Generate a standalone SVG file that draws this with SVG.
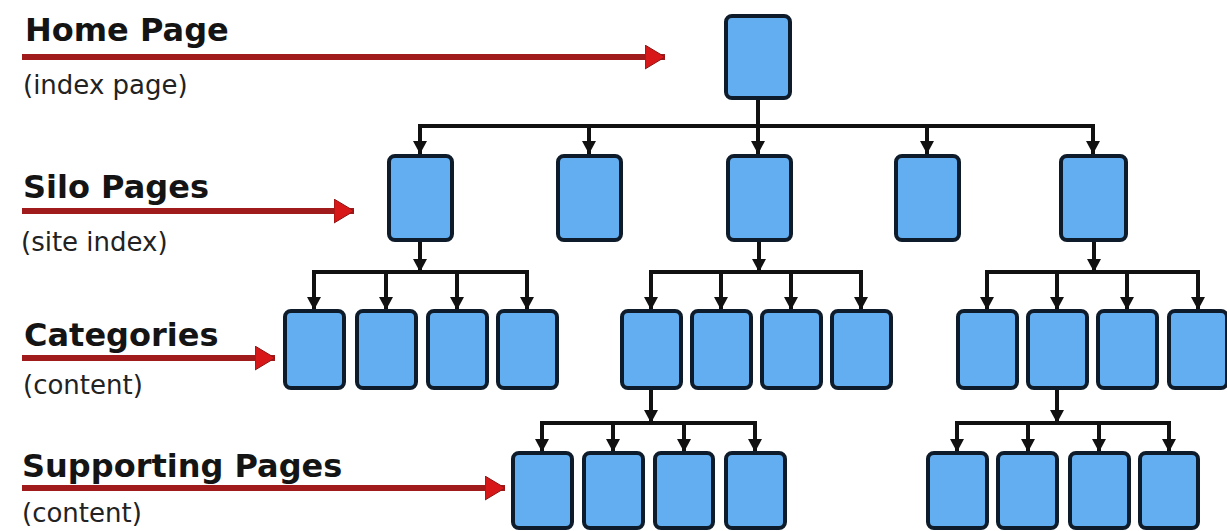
<svg xmlns="http://www.w3.org/2000/svg" width="1227" height="531" viewBox="0 0 1227 531">
  <style>
    .page { fill: #63aef0; stroke: #0d1b2a; stroke-width: 4; }
    .link { fill: none; stroke: #111; stroke-width: 4; }
    .tag  { fill: none; stroke: #a01c1c; stroke-width: 6; }
    .title { font-family: "DejaVu Sans", Verdana, sans-serif; font-weight: bold; font-size: 32px; fill: #141414; }
    .sub   { font-family: "DejaVu Sans", Verdana, sans-serif; font-size: 26px; fill: #222; }
  </style>
  <defs>
    <marker id="tip" markerUnits="userSpaceOnUse" markerWidth="16" markerHeight="16" refX="13" refY="7" orient="auto">
      <path d="M0,0 L13,7 L0,14 Z" fill="#111"/>
    </marker>
    <marker id="redtip" markerUnits="userSpaceOnUse" markerWidth="22" markerHeight="26" refX="20" refY="12" orient="auto">
      <path d="M0,0 L20,12 L0,24 Z" fill="#d81818" stroke="#8a1414" stroke-width="1"/>
    </marker>
  </defs>
  <rect width="1227" height="531" fill="#fff"/>

  <!-- level labels -->
  <g id="labels">
    <text class="title" x="25" y="41">Home Page</text>
    <text class="sub" x="23" y="94">(index page)</text>
    <text class="title" x="23" y="198">Silo Pages</text>
    <text class="sub" x="21" y="251">(site index)</text>
    <text class="title" x="24" y="346">Categories</text>
    <text class="sub" x="23" y="394">(content)</text>
    <text class="title" x="22" y="477">Supporting Pages</text>
    <text class="sub" x="22" y="522">(content)</text>
  </g>

  <!-- red pointers from labels to rows -->
  <g id="pointers">
    <line class="tag" x1="22" y1="57" x2="665" y2="57" marker-end="url(#redtip)"/>
    <line class="tag" x1="22" y1="211" x2="354" y2="211" marker-end="url(#redtip)"/>
    <line class="tag" x1="22" y1="358" x2="275" y2="358" marker-end="url(#redtip)"/>
    <line class="tag" x1="22" y1="488" x2="505" y2="488" marker-end="url(#redtip)"/>
  </g>

  <!-- tree connectors -->
  <g id="connectors">
    <!-- home to silos -->
    <path class="link" d="M758,98 V154" marker-end="url(#tip)"/>
    <path class="link" d="M420,126 H1093"/>
    <path class="link" d="M420,124 V154" marker-end="url(#tip)"/>
    <path class="link" d="M589,126 V154" marker-end="url(#tip)"/>
    <path class="link" d="M927,126 V154" marker-end="url(#tip)"/>
    <path class="link" d="M1093,124 V154" marker-end="url(#tip)"/>

    <!-- silo 1 to categories -->
    <path class="link" d="M420,240 V272" marker-end="url(#tip)"/>
    <path class="link" d="M314,272 H527"/>
    <path class="link" d="M314,270 V310" marker-end="url(#tip)"/>
    <path class="link" d="M386,272 V310" marker-end="url(#tip)"/>
    <path class="link" d="M457,272 V310" marker-end="url(#tip)"/>
    <path class="link" d="M527,270 V310" marker-end="url(#tip)"/>

    <!-- silo 3 to categories -->
    <path class="link" d="M759,240 V272" marker-end="url(#tip)"/>
    <path class="link" d="M651,272 H861"/>
    <path class="link" d="M651,270 V310" marker-end="url(#tip)"/>
    <path class="link" d="M721,272 V310" marker-end="url(#tip)"/>
    <path class="link" d="M791,272 V310" marker-end="url(#tip)"/>
    <path class="link" d="M861,270 V310" marker-end="url(#tip)"/>

    <!-- silo 5 to categories -->
    <path class="link" d="M1094,240 V272" marker-end="url(#tip)"/>
    <path class="link" d="M987,272 H1198"/>
    <path class="link" d="M987,270 V310" marker-end="url(#tip)"/>
    <path class="link" d="M1057,272 V310" marker-end="url(#tip)"/>
    <path class="link" d="M1127,272 V310" marker-end="url(#tip)"/>
    <path class="link" d="M1198,270 V310" marker-end="url(#tip)"/>

    <!-- middle category to supporting pages -->
    <path class="link" d="M651,388 V423" marker-end="url(#tip)"/>
    <path class="link" d="M542,423 H755"/>
    <path class="link" d="M542,421 V452" marker-end="url(#tip)"/>
    <path class="link" d="M613,423 V452" marker-end="url(#tip)"/>
    <path class="link" d="M684,423 V452" marker-end="url(#tip)"/>
    <path class="link" d="M755,421 V452" marker-end="url(#tip)"/>

    <!-- right category to supporting pages -->
    <path class="link" d="M1057,388 V423" marker-end="url(#tip)"/>
    <path class="link" d="M957,423 H1169"/>
    <path class="link" d="M957,421 V452" marker-end="url(#tip)"/>
    <path class="link" d="M1028,423 V452" marker-end="url(#tip)"/>
    <path class="link" d="M1099,423 V452" marker-end="url(#tip)"/>
    <path class="link" d="M1169,421 V452" marker-end="url(#tip)"/>
  </g>

  <!-- home page -->
  <g id="home"><rect class="page" x="726" y="16" width="64" height="82" rx="6"/></g>

  <!-- silo pages -->
  <g id="silo-1"><rect class="page" x="389" y="156" width="63" height="84" rx="6"/></g>
  <g id="silo-2"><rect class="page" x="558" y="156" width="63" height="84" rx="6"/></g>
  <g id="silo-3"><rect class="page" x="728" y="156" width="63" height="84" rx="6"/></g>
  <g id="silo-4"><rect class="page" x="896" y="156" width="63" height="84" rx="6"/></g>
  <g id="silo-5"><rect class="page" x="1061" y="156" width="65" height="84" rx="6"/></g>

  <!-- category pages -->
  <g id="cat-1"><rect class="page" x="285" y="311" width="59" height="77" rx="6"/></g>
  <g id="cat-2"><rect class="page" x="357" y="311" width="59" height="77" rx="6"/></g>
  <g id="cat-3"><rect class="page" x="428" y="311" width="59" height="77" rx="6"/></g>
  <g id="cat-4"><rect class="page" x="498" y="311" width="59" height="77" rx="6"/></g>
  <g id="cat-5"><rect class="page" x="622" y="311" width="59" height="77" rx="6"/></g>
  <g id="cat-6"><rect class="page" x="692" y="311" width="59" height="77" rx="6"/></g>
  <g id="cat-7"><rect class="page" x="762" y="311" width="59" height="77" rx="6"/></g>
  <g id="cat-8"><rect class="page" x="832" y="311" width="59" height="77" rx="6"/></g>
  <g id="cat-9"><rect class="page" x="958" y="311" width="59" height="77" rx="6"/></g>
  <g id="cat-10"><rect class="page" x="1028" y="311" width="59" height="77" rx="6"/></g>
  <g id="cat-11"><rect class="page" x="1098" y="311" width="59" height="77" rx="6"/></g>
  <g id="cat-12"><rect class="page" x="1169" y="311" width="58" height="77" rx="6"/></g>

  <!-- supporting pages -->
  <g id="sup-1"><rect class="page" x="513" y="453" width="59" height="75" rx="6"/></g>
  <g id="sup-2"><rect class="page" x="584" y="453" width="59" height="75" rx="6"/></g>
  <g id="sup-3"><rect class="page" x="655" y="453" width="58" height="75" rx="6"/></g>
  <g id="sup-4"><rect class="page" x="726" y="453" width="59" height="75" rx="6"/></g>
  <g id="sup-5"><rect class="page" x="928" y="453" width="59" height="75" rx="6"/></g>
  <g id="sup-6"><rect class="page" x="998" y="453" width="59" height="75" rx="6"/></g>
  <g id="sup-7"><rect class="page" x="1070" y="453" width="59" height="75" rx="6"/></g>
  <g id="sup-8"><rect class="page" x="1140" y="453" width="58" height="75" rx="6"/></g>
</svg>
